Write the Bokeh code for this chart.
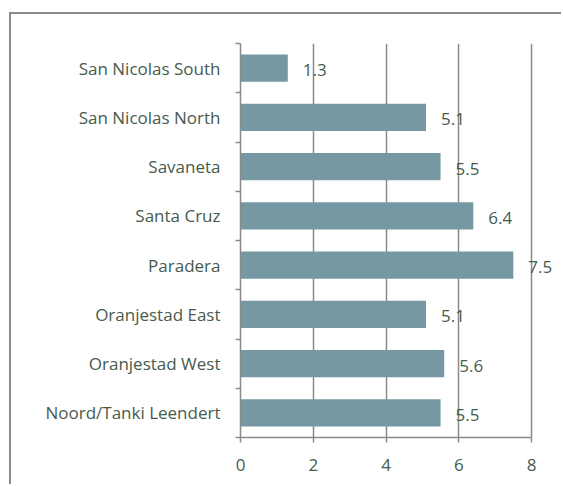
from bokeh.plotting import figure
from bokeh.models import ColumnDataSource, FixedTicker, Range1d
from bokeh.core.properties import value
from bokeh.embed import file_html
from bokeh.resources import INLINE

# Data (top to bottom as shown)
districts = ["San Nicolas South", "San Nicolas North", "Savaneta", "Santa Cruz",
             "Paradera", "Oranjestad East", "Oranjestad West", "Noord/Tanki Leendert"]
values = [1.3, 5.1, 5.5, 6.4, 7.5, 5.1, 5.6, 5.5]
value_labels = ["1.3", "5.1", "5.5", "6.4", "7.5", "5.1", "5.6", "5.5"]
x_ticks = [0, 2, 4, 6, 8]

n = len(districts)
ypos = [n - i - 0.5 for i in range(n)]
src = ColumnDataSource(dict(y=ypos, v=values, lab=value_labels, name=districts))

FONT = "Open Sans"
TXT = "#475b4d"
GRAY = "#8a8a8a"
BAR = "#7698a3"

PW, PH = 563, 486          # page / window size
OX, OY = 11, 14            # offset of the chart area (inside its border)
W, H = PW - OX, PH - OY
FL, FR, FT, FB = 240 - OX, 531 - OX, 43 - OY, 437 - OY  # frame edges
x_end = 8 * (W - FL) / (FR - FL)

p = figure(width=W, height=H, output_backend="svg", toolbar_location=None,
           x_range=Range1d(0, x_end), y_range=Range1d(0, n),
           min_border_left=FL, min_border_right=0,
           min_border_top=FT, min_border_bottom=H - FB)
# left and top border of the chart box (right/bottom lie outside the picture)
p.styles = {"margin-left": f"{OX}px", "margin-top": f"{OY}px",
            "box-shadow": f"-2px -2px 0 0 {GRAY}"}
p.outline_line_color = None
p.background_fill_color = "white"
p.border_fill_color = "white"

p.hbar(y="y", right="v", left=0, height=0.55, source=src,
       fill_color=BAR, line_color=None)
p.text(x="v", y="y", text="lab", source=src, x_offset=15, y_offset=2,
       text_align="left", text_baseline="middle",
       text_font=value(FONT), text_font_size="17px", text_color=TXT)

# x axis
p.xaxis.ticker = FixedTicker(ticks=x_ticks, minor_ticks=[])
p.xaxis.bounds = (0, 8)
p.xaxis.axis_line_color = GRAY
p.xaxis.axis_line_width = 1.5
p.xaxis.major_tick_line_color = GRAY
p.xaxis.major_tick_line_width = 1.5
p.xaxis.major_tick_in = 0
p.xaxis.major_tick_out = 5
p.xaxis.minor_tick_line_color = None
p.xaxis.major_label_text_font = FONT
p.xaxis.major_label_text_font_size = "17px"
p.xaxis.major_label_text_color = TXT
p.xaxis.major_label_standoff = 16

# y axis: category labels at centers, ticks at boundaries
p.yaxis.ticker = FixedTicker(ticks=ypos, minor_ticks=list(range(n + 1)))
p.yaxis.major_label_overrides = {y: d for y, d in zip(ypos, districts)}
p.yaxis.axis_line_color = GRAY
p.yaxis.axis_line_width = 1.5
p.yaxis.major_tick_line_color = None
p.yaxis.major_tick_in = 0
p.yaxis.major_tick_out = 5
p.yaxis.minor_tick_line_color = GRAY
p.yaxis.minor_tick_line_width = 1.5
p.yaxis.minor_tick_in = 0
p.yaxis.minor_tick_out = 5
p.yaxis.major_label_text_font = FONT
p.yaxis.major_label_text_font_size = "17px"
p.yaxis.major_label_text_color = TXT
p.yaxis.major_label_standoff = 15

p.ygrid.grid_line_color = None
p.xgrid.grid_line_color = GRAY
p.xgrid.grid_line_width = 1.5

open("out.html", "w").write(file_html(p, INLINE))
